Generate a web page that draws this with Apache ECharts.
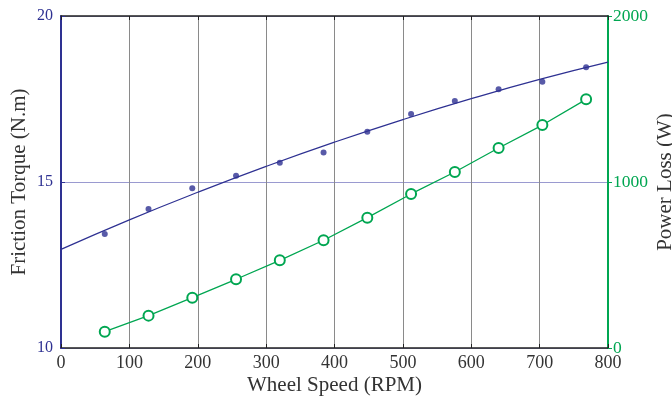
<!DOCTYPE html>
<html><head><meta charset="utf-8">
<script src="https://cdn.jsdelivr.net/npm/echarts@6/dist/echarts.min.js"></script>
<style>html,body{margin:0;padding:0;background:#fff}#c{width:672px;height:399px}</style>
</head><body><div id="c"></div>
<script>
const speeds = [64,128,192,256,320,384,448,512,576,640,704,768];
const torque = [13.43,14.19,14.81,15.19,15.58,15.89,16.51,17.05,17.44,17.79,18.02,18.46];
const powerLoss = [98,195,303,414,528,649,785,928,1060,1205,1343,1498];
const fitSpeeds = [0,100,200,300,400,500,600,700,800];
const fitTorque = [12.97,13.86,14.69,15.47,16.20,16.88,17.51,18.09,18.61];
const xTicks = [0,100,200,300,400,500,600,700,800];

const BLUE = '#2E3192', GREEN = '#00A651';
const FONT = 'Liberation Serif';
const chart = echarts.init(document.getElementById('c'));
chart.setOption({
  animation:false,
  grid:{left:61,right:64,top:16,bottom:51,outerBoundsMode:'none',containLabel:false},
  xAxis:[{
    type:'value',min:xTicks[0],max:xTicks[xTicks.length-1],interval:100,position:'bottom',
    axisLine:{onZero:false,lineStyle:{color:'#222',width:1.5}},
    axisTick:{inside:true,length:4,lineStyle:{color:'#222'}},
    splitLine:{show:true,lineStyle:{color:'#8a8a8a',width:1}},
    axisLabel:{fontFamily:FONT,fontSize:18,color:'#333',margin:6},
    name:'Wheel Speed (RPM)',nameLocation:'middle',nameGap:27,nameMoveOverlap:false,
    nameTextStyle:{fontFamily:FONT,fontSize:21,color:'#333'}
  },{
    type:'value',min:0,max:800,interval:100,position:'top',
    axisLine:{onZero:false,lineStyle:{color:'#222',width:1.5}},
    axisTick:{inside:true,length:4,lineStyle:{color:'#222'}},
    axisLabel:{show:false},splitLine:{show:false}
  }],
  yAxis:[{
    type:'value',min:10,max:20,interval:5,position:'left',
    axisLine:{show:true,onZero:false,lineStyle:{color:BLUE,width:2}},
    axisTick:{show:true,inside:true,length:4,lineStyle:{color:BLUE}},
    splitLine:{show:true,lineStyle:{color:'#9a9ad0',width:1}},
    axisLabel:{fontFamily:FONT,fontSize:16,color:BLUE,margin:8},
    name:'Friction Torque (N.m)',nameLocation:'middle',nameGap:31,nameMoveOverlap:false,
    nameTextStyle:{fontFamily:FONT,fontSize:21,color:'#333'}
  },{
    type:'value',min:0,max:2000,interval:1000,position:'right',
    axisLine:{show:true,onZero:false,lineStyle:{color:GREEN,width:2}},
    axisTick:{show:true,inside:false,length:4,lineStyle:{color:GREEN}},
    splitLine:{show:false},
    axisLabel:{fontFamily:FONT,fontSize:17.5,color:GREEN,margin:5,formatter:v=>String(v)},
    name:'Power Loss (W)',nameLocation:'middle',nameGap:47,nameMoveOverlap:false,
    nameTextStyle:{fontFamily:FONT,fontSize:21,color:'#333'}
  }],
  series:[{
    type:'line',xAxisIndex:0,yAxisIndex:0,smooth:true,showSymbol:false,
    data:fitSpeeds.map((s,i)=>[s,fitTorque[i]]),
    lineStyle:{color:BLUE,width:1.2},z:3
  },{
    type:'scatter',xAxisIndex:0,yAxisIndex:0,symbol:'circle',symbolSize:6,
    data:speeds.map((s,i)=>[s,torque[i]]),
    itemStyle:{color:BLUE},z:4
  },{
    type:'line',xAxisIndex:0,yAxisIndex:1,symbol:'emptyCircle',symbolSize:10,
    data:speeds.map((s,i)=>[s,powerLoss[i]]),
    lineStyle:{color:GREEN,width:1.3},itemStyle:{color:GREEN,borderWidth:1.3},z:4
  }]
});
</script></body></html>
